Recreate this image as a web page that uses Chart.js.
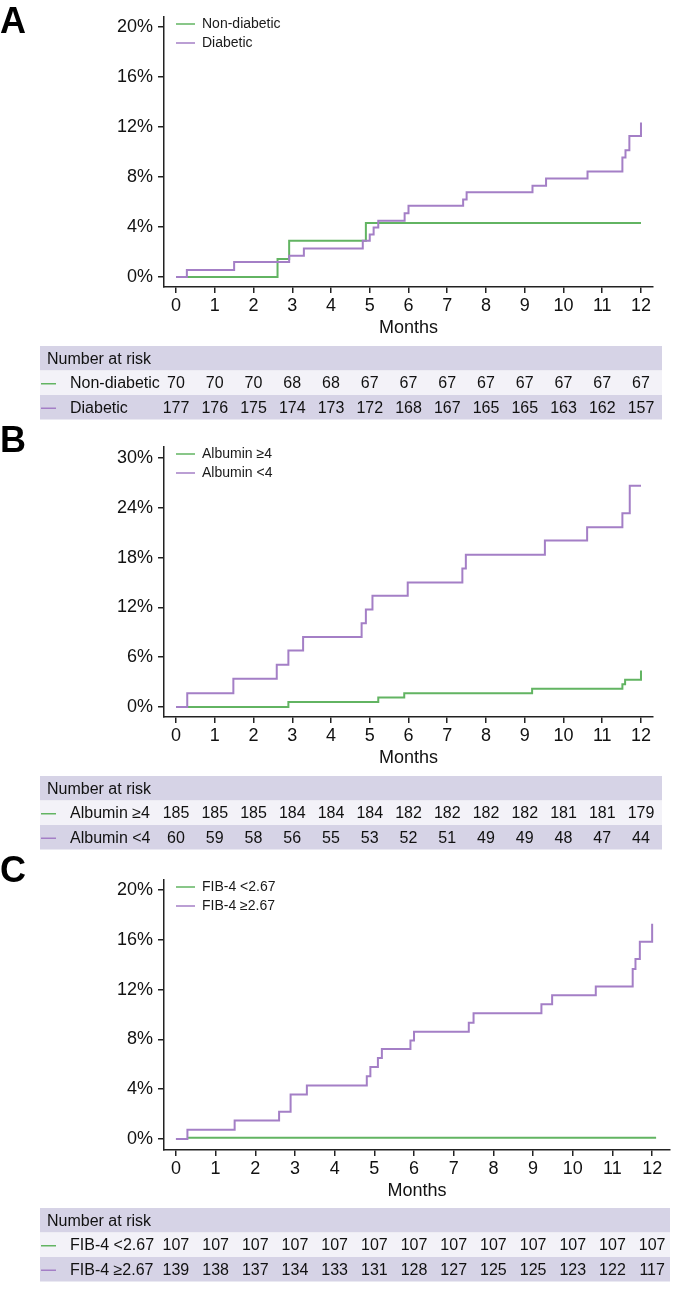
<!DOCTYPE html>
<html>
<head>
<meta charset="utf-8">
<script src="https://cdn.jsdelivr.net/npm/chart.js@4.4.1/dist/chart.umd.min.js"></script>
<style>
  html, body { margin: 0; padding: 0; background: #fff; }
  canvas { display: block; }
</style>
</head>
<body>
<canvas id="chartA" width="692" height="420"></canvas>
<canvas id="chartB" width="692" height="430"></canvas>
<canvas id="chartC" width="692" height="439"></canvas>
<script>
// months shown on the x axis and in the at-risk tables
const months = [0, 1, 2, 3, 4, 5, 6, 7, 8, 9, 10, 11, 12];

// Panel A - diabetes
const aLabels = ["Non-diabetic", "Diabetic"];
const aYTicks = [0, 4, 8, 12, 16, 20];
const nonDiabTime = [0, 2.62, 2.92, 4.9, 12];
const nonDiabPct = [0, 1.45, 2.9, 4.32, 4.32];
const diabTime = [0, 0.28, 1.5, 2.92, 3.3, 4.82, 5.0, 5.1, 5.22, 5.9, 6.0, 7.41, 7.5, 9.2, 9.55, 10.62, 11.52, 11.6, 11.7, 12];
const diabPct = [0, 0.57, 1.2, 1.7, 2.29, 2.9, 3.41, 3.97, 4.5, 5.1, 5.71, 6.2, 6.78, 7.3, 7.88, 8.45, 9.57, 10.15, 11.28, 12.37];
const riskNonDiab = [70, 70, 70, 68, 68, 67, 67, 67, 67, 67, 67, 67, 67];
const riskDiab = [177, 176, 175, 174, 173, 172, 168, 167, 165, 165, 163, 162, 157];

// Panel B - albumin
const bLabels = ["Albumin \u22654", "Albumin <4"];
const bYTicks = [0, 6, 12, 18, 24, 30];
const albHighTime = [0, 2.9, 5.22, 5.89, 9.19, 11.52, 11.59, 12];
const albHighPct = [0, 0.6, 1.15, 1.65, 2.2, 2.75, 3.3, 4.4];
const albLowTime = [0, 0.29, 1.48, 2.6, 2.9, 3.28, 4.79, 4.9, 5.07, 5.98, 7.39, 7.48, 9.52, 10.61, 11.52, 11.71, 12];
const albLowPct = [0, 1.65, 3.4, 5.1, 6.8, 8.45, 10.1, 11.75, 13.4, 15.0, 16.7, 18.35, 20.05, 21.65, 23.35, 26.65, 26.65];
const riskAlbHigh = [185, 185, 185, 184, 184, 184, 182, 182, 182, 182, 181, 181, 179];
const riskAlbLow = [60, 59, 58, 56, 55, 53, 52, 51, 49, 49, 48, 47, 44];

// Panel C - FIB-4
const cLabels = ["FIB-4 <2.67", "FIB-4 \u22652.67"];
const cYTicks = [0, 4, 8, 12, 16, 20];
const fibLowTime = [0.28, 12.1];
const fibLowPct = [0.1, 0.1];
const fibHighTime = [0, 0.29, 1.48, 2.6, 2.89, 3.3, 4.81, 4.9, 5.09, 5.19, 5.91, 6.0, 7.38, 7.5, 9.21, 9.48, 10.58, 11.51, 11.58, 11.69, 12];
const fibHighPct = [0, 0.75, 1.48, 2.2, 3.57, 4.3, 5.05, 5.78, 6.5, 7.22, 7.92, 8.62, 9.34, 10.1, 10.82, 11.54, 12.24, 13.66, 14.45, 15.85, 17.28];
const riskFibLow = [107, 107, 107, 107, 107, 107, 107, 107, 107, 107, 107, 107, 107];
const riskFibHigh = [139, 138, 137, 134, 133, 131, 128, 127, 125, 125, 123, 122, 117];

const FAMILY = "'Liberation Sans', Arial, Helvetica, sans-serif";
const GREEN = "#62b462";
const PURPLE = "#a47fc6";
const AXIS = "#222";
const HEAD_BG = "#d6d3e6";
const ROW_BG = "#f3f2f8";

Chart.defaults.font.family = FAMILY;

function toPoints(times, pcts) {
  return times.map((t, i) => ({ x: t, y: pcts[i] }));
}

// panel letter, legend inside the plot and the number-at-risk table
const kmDecor = {
  id: "kmDecor",
  afterDraw(chart, args, opts) {
    const ctx = chart.ctx;
    const area = chart.chartArea;
    const xs = chart.scales.x;
    ctx.save();

    ctx.fillStyle = "#000";
    ctx.font = "bold 36px " + FAMILY;
    ctx.textAlign = "left";
    ctx.textBaseline = "alphabetic";
    ctx.fillText(opts.letter, 0, opts.letterY);

    ctx.font = "14px " + FAMILY;
    ctx.textBaseline = "middle";
    chart.data.datasets.forEach((ds, i) => {
      const y = area.top + 7 + i * 19;
      ctx.strokeStyle = ds.borderColor;
      ctx.lineWidth = 1.5;
      ctx.beginPath();
      ctx.moveTo(area.left + 12, y);
      ctx.lineTo(area.left + 31, y);
      ctx.stroke();
      ctx.fillStyle = "#1a1a1a";
      ctx.fillText(ds.label, area.left + 38, y);
    });

    const top = opts.tableTop;
    const rh = 24.5;
    const left = 40;
    const w = opts.tableRight - left;
    ctx.fillStyle = HEAD_BG;
    ctx.fillRect(left, top, w, rh);
    ctx.fillStyle = ROW_BG;
    ctx.fillRect(left, top + rh, w, rh);
    ctx.fillStyle = HEAD_BG;
    ctx.fillRect(left, top + 2 * rh, w, rh);

    ctx.font = "16px " + FAMILY;
    ctx.fillStyle = "#111";
    ctx.textAlign = "left";
    ctx.fillText("Number at risk", 47, top + rh / 2 + 1);

    opts.rows.forEach((row, r) => {
      const cy = top + rh * (r + 1) + rh / 2 + 1;
      const ds = chart.data.datasets[r];
      ctx.strokeStyle = ds.borderColor;
      ctx.lineWidth = 1.5;
      ctx.beginPath();
      ctx.moveTo(41, cy);
      ctx.lineTo(56, cy);
      ctx.stroke();
      ctx.fillStyle = "#111";
      ctx.textAlign = "left";
      ctx.fillText(ds.label, 70, cy);
      ctx.textAlign = "center";
      row.forEach((n, j) => {
        ctx.fillText(String(n), xs.getPixelForValue(months[j]), cy);
      });
    });
    ctx.restore();
  }
};

function makePanel(id, p) {
  const tickFont = { size: 18, family: FAMILY };
  return new Chart(document.getElementById(id), {
    type: "line",
    data: {
      datasets: [
        {
          label: p.labels[0],
          data: p.green,
          borderColor: GREEN,
          borderWidth: 2,
          pointRadius: 0,
          stepped: true,
          fill: false,
          order: 2
        },
        {
          label: p.labels[1],
          data: p.purple,
          borderColor: PURPLE,
          borderWidth: 2,
          pointRadius: 0,
          stepped: true,
          fill: false,
          order: 1
        }
      ]
    },
    options: {
      responsive: false,
      animation: false,
      devicePixelRatio: 1,
      layout: {
        autoPadding: false,
        padding: { left: 0, top: p.top, right: 692 - p.right, bottom: p.height - p.bottom - 52 }
      },
      plugins: {
        legend: { display: false },
        tooltip: { enabled: false },
        kmDecor: { letter: p.letter, letterY: p.letterY, tableTop: p.tableTop, tableRight: p.tableRight, rows: p.risk }
      },
      scales: {
        x: {
          type: "linear",
          min: p.xMin,
          max: p.xMax,
          afterBuildTicks: (s) => { s.ticks = months.map((v) => ({ value: v })); },
          afterFit: (s) => { s.height = 52; },
          border: { color: AXIS, width: 1.5 },
          grid: { drawOnChartArea: false, drawTicks: true, tickLength: 6, color: AXIS, lineWidth: 1.5 },
          ticks: { font: tickFont, color: "#111", padding: 2, maxRotation: 0, autoSkip: false },
          title: { display: true, text: "Months", font: tickFont, color: "#111", padding: 0 }
        },
        y: {
          type: "linear",
          min: p.yMin,
          max: p.yMax,
          afterBuildTicks: (s) => { s.ticks = p.yTicks.map((v) => ({ value: v })); },
          afterFit: (s) => { s.width = p.left; },
          border: { color: AXIS, width: 1.5 },
          grid: { drawOnChartArea: false, drawTicks: true, tickLength: 6, color: AXIS, lineWidth: 1.5 },
          ticks: { font: tickFont, color: "#111", padding: 5, callback: (v) => v + "%" }
        }
      }
    },
    plugins: [kmDecor]
  });
}

makePanel("chartA", {
  letter: "A", letterY: 33, labels: aLabels, yTicks: aYTicks,
  green: toPoints(nonDiabTime, nonDiabPct), purple: toPoints(diabTime, diabPct),
  risk: [riskNonDiab, riskDiab],
  height: 420, left: 164, right: 653, top: 17, bottom: 287,
  xMin: -0.31, xMax: 12.31, yMin: -0.8, yMax: 20.8,
  tableTop: 346, tableRight: 662
});

makePanel("chartB", {
  letter: "B", letterY: 32, labels: bLabels, yTicks: bYTicks,
  green: toPoints(albHighTime, albHighPct), purple: toPoints(albLowTime, albLowPct),
  risk: [riskAlbHigh, riskAlbLow],
  height: 430, left: 164, right: 653, top: 27, bottom: 297,
  xMin: -0.31, xMax: 12.31, yMin: -1.2, yMax: 31.33,
  tableTop: 356, tableRight: 662
});

makePanel("chartC", {
  letter: "C", letterY: 32, labels: cLabels, yTicks: cYTicks,
  green: toPoints(fibLowTime, fibLowPct), purple: toPoints(fibHighTime, fibHighPct),
  risk: [riskFibLow, riskFibHigh],
  height: 439, left: 164, right: 670, top: 30, bottom: 300,
  xMin: -0.3, xMax: 12.45, yMin: -0.88, yMax: 20.8,
  tableTop: 358, tableRight: 670
});
</script>
</body>
</html>
